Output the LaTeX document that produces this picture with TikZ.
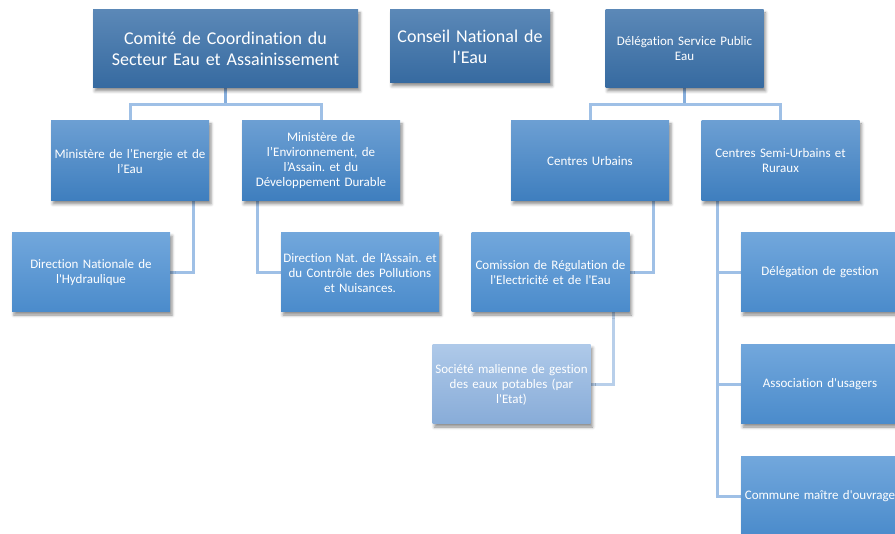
\documentclass[tikz,border=0pt]{standalone}
\usepackage{fontspec}
\setmainfont{Carlito}[Ligatures={NoCommon,TeXOff}]
\frenchspacing
\usetikzlibrary{shadows.blur,backgrounds}
\definecolor{topA}{HTML}{5B88B7}
\definecolor{botA}{HTML}{366AA0}
\definecolor{topB}{HTML}{6C9FD3}
\definecolor{botB}{HTML}{3E7EBE}
\definecolor{topC}{HTML}{72A7DC}
\definecolor{botC}{HTML}{4A8BCB}
\definecolor{topD}{HTML}{AEC9E9}
\definecolor{botD}{HTML}{88ACD8}
\definecolor{lineA}{HTML}{86AEDC}
\definecolor{lineB}{HTML}{9FC0E6}
\definecolor{lineC}{HTML}{B8CFEA}
\tikzset{
  box/.style={rectangle, align=center, text=white, inner sep=0.5pt,
    minimum width=158pt, minimum height=80pt, text width=157pt,
    font=\fontsize{13}{15}\selectfont,
    blur shadow={shadow xshift=2pt, shadow yshift=-3pt, shadow opacity=45, shadow blur radius=3pt}},
  topbox/.style={box, top color=topA, bottom color=botA},
  midbox/.style={box, top color=topB, bottom color=botB},
  lowbox/.style={box, top color=topC, bottom color=botC},
  palebox/.style={box, top color=topD, bottom color=botD},
  conn/.style={draw=lineB, line width=3pt},
  connA/.style={draw=lineA, line width=3pt},
  connC/.style={draw=lineC, line width=3pt}
}
\begin{document}
\begin{tikzpicture}[x=1pt,y=-1pt]
\useasboundingbox (0,0) rectangle (895,534);
\clip (0,0) rectangle (895,534);
\coordinate (h1) at (225.5,105);
\coordinate (h2) at (684.5,105);
% nodes
\node[topbox, minimum width=265pt, minimum height=78pt, text width=262pt, font=\fontsize{18}{21}\selectfont] (comite) at (225.5,49) {Comité de Coordination du\\Secteur Eau et Assainissement};
\node[topbox, minimum width=160pt, minimum height=73pt, text width=158pt, font=\fontsize{18}{21}\selectfont] (conseil) at (470,46.5) {Conseil National de\\l'Eau};
\node[topbox, minimum width=157pt, minimum height=78pt] (dsp) at (684.5,49) {Délégation Service Public\\Eau};
\node[midbox] (min1) at (130,161) {Ministère de l’Energie et de\\l’Eau};
\node[midbox] (min2) at (321,161) {Ministère de\\l’Environnement, de\\l’Assain. et du\\Développement Durable};
\node[midbox] (cu) at (590,161) {Centres Urbains};
\node[midbox] (csu) at (780.5,161) {Centres Semi-Urbains et\\Ruraux};
\node[lowbox, minimum height=79pt] (dnh) at (91,272.5) {Direction Nationale de\\l'Hydraulique};
\node[lowbox, minimum height=79pt] (dnacp) at (360,272.5) {\makebox[0pt]{Direction Nat. de l’Assain. et}\\du Contrôle des Pollutions\\et Nuisances.};
\node[lowbox, minimum height=79pt] (cree) at (550.5,272.5) {Comission de Régulation de\\l'Electricité et de l'Eau};
\node[palebox, minimum height=79pt] (smgep) at (511.5,384.5) {Société malienne de gestion\\des eaux potables (par\\l'Etat)};
\node[lowbox, minimum height=79pt] (deleg) at (820,272.5) {Délégation de gestion};
\node[lowbox, minimum height=79pt] (assoc) at (820,384.5) {Association d'usagers};
\node[lowbox, minimum height=79pt] (commune) at (820,496.5) {\makebox[0pt]{Commune maître d'ouvrage}};
% connectors
\begin{scope}[on background layer]
\draw[connA] (comite.south) -- (h1);
\draw[conn] (h1) -| (min1.north);
\draw[conn] (h1) -| (min2.north);
\draw[connA] (dsp.south) -- (h2);
\draw[conn] (h2) -| (cu.north);
\draw[conn] (h2) -| (csu.north);
\draw[conn] ([xshift=63pt]min1.south) |- (dnh.east);
\draw[conn] ([xshift=-64pt]min2.south) |- (dnacp.west);
\draw[conn] ([xshift=63pt]cu.south) |- (cree.east);
\draw[connC] ([xshift=62.5pt]cree.south) |- (smgep.east);
\draw[conn] ([xshift=-63.5pt]csu.south) |- (deleg.west);
\draw[conn] ([xshift=-63.5pt]csu.south) |- (assoc.west);
\draw[conn] ([xshift=-63.5pt]csu.south) |- (commune.west);
\end{scope}
\end{tikzpicture}
\end{document}
